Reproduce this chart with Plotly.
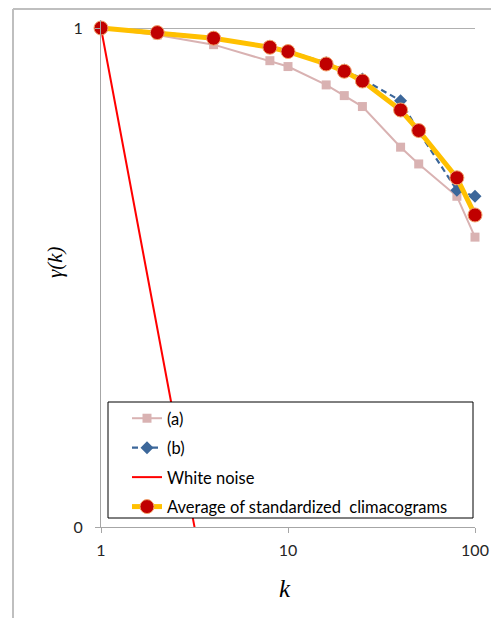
import plotly.graph_objects as go

# Data
k = [1, 2, 4, 8, 10, 16, 20, 25, 40, 50, 80, 100]
series_a = [1.0, 0.968, 0.926, 0.860, 0.837, 0.769, 0.732, 0.696, 0.577, 0.534, 0.460, 0.381]
series_b = [1.0, 0.981, 0.956, 0.918, 0.900, 0.852, 0.824, 0.790, 0.715, 0.620, 0.473, 0.460]
k_white = [1, 2, 4]
white_noise = [1.0, 0.25, 0.0625]
average = [1.0, 0.979, 0.954, 0.915, 0.897, 0.847, 0.819, 0.783, 0.685, 0.623, 0.501, 0.422]

y_tickvals = [0.1, 1]
y_ticktext = ["0", "1"]
x_tickvals = [1, 10, 100]
x_ticktext = ["1", "10", "100"]

W, H = 491, 618
L, R, T, B = 101, 16, 20, 91
pw, ph = W - L - R, H - T - B

def px(xp):
    return (xp - L) / pw

def py(yp):
    return (H - B - yp) / ph

fig = go.Figure()
fig.add_trace(go.Scatter(
    x=k, y=series_a, name="(a)", mode="lines+markers", legendgroup="a",
    line=dict(color="#D9B2B2", width=2),
    marker=dict(symbol="square", size=9, color="#D9B2B2"),
    cliponaxis=False))
fig.add_trace(go.Scatter(
    x=k, y=series_b, name="(b)", mode="lines+markers", legendgroup="b",
    line=dict(color="#3C679A", width=2.2, dash="6px,4px"),
    marker=dict(symbol="diamond", size=10, color="#3C679A"),
    cliponaxis=False))
fig.add_trace(go.Scatter(
    x=k_white, y=white_noise, name="White noise", mode="lines", legendgroup="w",
    line=dict(color="#FF0000", width=2)))
fig.add_trace(go.Scatter(
    x=k, y=average, name="Average of standardized\u00a0 climacograms",
    mode="lines+markers", legendgroup="avg",
    line=dict(color="#FFC000", width=5),
    marker=dict(symbol="circle", size=14, color="#C00000",
                line=dict(color="#F2A36B", width=1)),
    cliponaxis=False))

axis_font = dict(family="Lato, Carlito, sans-serif", size=16, color="#262626")

fig.update_xaxes(
    type="log", range=[0, 2], tickvals=x_tickvals, ticktext=x_ticktext,
    showline=True, linecolor="#A6A6A6", linewidth=1,
    ticks="outside", ticklen=5, tickcolor="#A6A6A6", ticklabelstandoff=4,
    showgrid=False, zeroline=False, tickfont=axis_font, automargin=False)
fig.update_yaxes(
    type="log", range=[-1, 8 / 499], tickvals=y_tickvals, ticktext=y_ticktext,
    showline=True, linecolor="#A6A6A6", linewidth=1,
    ticks="outside", ticklen=5, tickcolor="#A6A6A6", ticklabelstandoff=9,
    showgrid=True, gridcolor="#B0B0B0", gridwidth=1, zeroline=False,
    tickfont=axis_font, automargin=False)

shapes = [
    # outer chart border (left and top)
    dict(type="line", xref="paper", yref="paper", x0=px(13), x1=px(13), y0=py(9), y1=py(H + 2),
         line=dict(color="#BFBFBF", width=2)),
    dict(type="line", xref="paper", yref="paper", x0=px(13), x1=px(W + 2), y0=py(9), y1=py(9),
         line=dict(color="#BFBFBF", width=2)),
    # legend box
    dict(type="rect", xref="paper", yref="paper", x0=px(108), x1=px(473), y0=py(518), y1=py(402),
         fillcolor="white", line=dict(color="black", width=1), layer="above"),
]

annotations = [
    dict(text="<i>γ(k)</i>", xref="paper", yref="paper", x=px(55), y=py(262),
         showarrow=False, textangle=-90, xanchor="center", yanchor="middle",
         font=dict(family="Liberation Serif, serif", size=21, color="black")),
    dict(text="<i>k</i>", xref="paper", yref="paper", x=px(285), y=py(588),
         showarrow=False, xanchor="center", yanchor="middle",
         font=dict(family="Liberation Serif, serif", size=25, color="black")),
]

fig.update_layout(
    width=W, height=H, margin=dict(l=L, r=R, t=T, b=B, autoexpand=False),
    paper_bgcolor="white", plot_bgcolor="white",
    shapes=shapes, annotations=annotations,
    showlegend=True,
    legend=dict(x=px(127), y=py(401), xanchor="left", yanchor="top",
                bgcolor="rgba(0,0,0,0)", borderwidth=0,
                traceorder="grouped", tracegroupgap=5,
                font=dict(family="Lato, Carlito, sans-serif", size=16.5, color="black")),
)

fig.write_html("out.html")
